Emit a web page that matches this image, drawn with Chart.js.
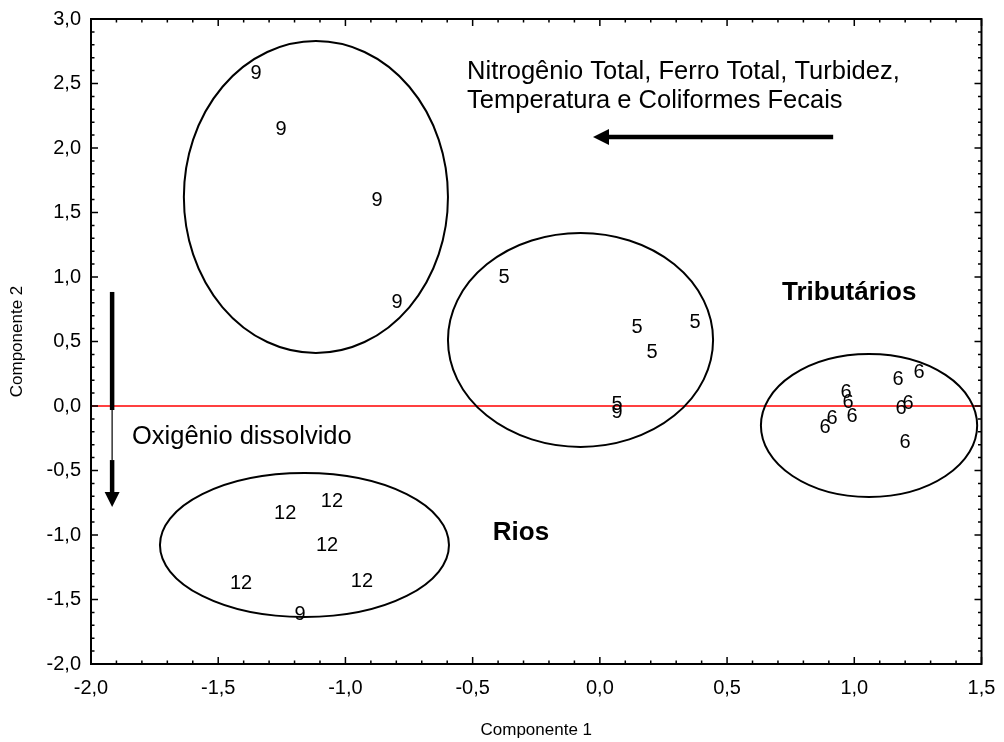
<!DOCTYPE html>
<html><head><meta charset="utf-8">
<script src="https://cdn.jsdelivr.net/npm/chart.js@4.4.1/dist/chart.umd.min.js"></script>
<style>html,body{margin:0;padding:0;background:#fff}#wrap{width:1004px;height:742px;position:relative}</style>
</head><body><div id="wrap"><canvas id="c"></canvas></div>
<script>
// ---- tick labels ----
const xTicks = [-2.0, -1.5, -1.0, -0.5, 0.0, 0.5, 1.0, 1.5];
const yTicks = [-2.0, -1.5, -1.0, -0.5, 0.0, 0.5, 1.0, 1.5, 2.0, 2.5, 3.0];
const xTitle = 'Componente 1';
const yTitle = 'Componente 2';

// ---- point groups (label text drawn at each score) ----
const g9X = [-1.351, -1.253, -0.876, -0.797];
const g9Y = [2.581, 2.140, 1.597, 0.806];
const g5X = [-0.377, 0.146, 0.374, 0.205, 0.068];
const g5Y = [1.000, 0.605, 0.651, 0.411, 0.008];
const g6X = [1.172, 1.255, 0.968, 0.976, 0.991, 0.913, 0.885, 1.184, 1.211, 1.200];
const g6Y = [0.202, 0.256, 0.101, 0.031, -0.085, -0.093, -0.163, -0.016, 0.016, -0.279];
const g12X = [-1.053, -1.237, -1.072, -1.410, -0.935];
const g12Y = [-0.744, -0.837, -1.085, -1.372, -1.357];
const extra9X = [0.068, -1.178];
const extra9Y = [-0.054, -1.620];

// ---- group ellipses: centre x, centre y, radius x, radius y (data units) ----
const ellCX = [-1.116, -0.076, 1.058, -1.161];
const ellCY = [1.620, 0.512, -0.151, -1.078];
const ellRX = [0.519, 0.521, 0.425, 0.568];
const ellRY = [1.209, 0.829, 0.554, 0.558];

// ---- annotations ----
const noteTexts = ['Nitrogênio Total, Ferro Total, Turbidez,', 'Temperatura e Coliformes Fecais', 'Oxigênio dissolvido'];
const noteX = [-0.522, -0.522, -1.839];
const noteY = [2.589, 2.364, -0.240];
const boldTexts = ['Tributários', 'Rios'];
const boldX = [0.980, -0.310];
const boldY = [0.876, -0.984];

const fmt = v => Number(v).toFixed(1).replace('.', ',');
const pts = (xs, ys) => xs.map((x, i) => ({x, y: ys[i]}));
const FONT = "'Liberation Sans', Arial, sans-serif";
Chart.defaults.font.family = FONT;
Chart.defaults.color = '#000';

const decor = {
  id: 'decor',
  beforeDatasetsDraw(chart) {
    const {ctx, chartArea: a, scales: {x, y}} = chart;
    ctx.save();
    ctx.strokeStyle = '#ff0000';
    ctx.lineWidth = 1.5;
    const y0 = y.getPixelForValue(0);
    ctx.beginPath(); ctx.moveTo(a.left, y0); ctx.lineTo(a.right, y0); ctx.stroke();
    ctx.strokeStyle = '#000';
    ctx.lineWidth = 2;
    for (let i = 0; i < ellCX.length; i++) {
      const cx = x.getPixelForValue(ellCX[i]), cy = y.getPixelForValue(ellCY[i]);
      const rx = Math.abs(x.getPixelForValue(ellCX[i] + ellRX[i]) - cx);
      const ry = Math.abs(y.getPixelForValue(ellCY[i] + ellRY[i]) - cy);
      ctx.beginPath(); ctx.ellipse(cx, cy, rx, ry, 0, 0, Math.PI * 2); ctx.stroke();
    }
    ctx.restore();
  },
  afterDatasetsDraw(chart) {
    const {ctx, scales: {x, y}} = chart;
    ctx.save();
    ctx.fillStyle = '#000';
    ctx.textAlign = 'center';
    ctx.textBaseline = 'middle';
    ctx.font = '20px ' + FONT;
    chart.data.datasets.forEach((ds, di) => {
      chart.getDatasetMeta(di).data.forEach(el => ctx.fillText(ds.mark, el.x, el.y));
    });
    ctx.textAlign = 'left';
    ctx.font = '25.5px ' + FONT;
    noteTexts.forEach((t, i) => ctx.fillText(t, x.getPixelForValue(noteX[i]), y.getPixelForValue(noteY[i])));
    ctx.textAlign = 'center';
    ctx.font = 'bold 26px ' + FONT;
    boldTexts.forEach((t, i) => ctx.fillText(t, x.getPixelForValue(boldX[i]), y.getPixelForValue(boldY[i])));
    // horizontal arrow
    const ay = y.getPixelForValue(2.085);
    const ax1 = x.getPixelForValue(0.917), ax0 = x.getPixelForValue(-0.027);
    ctx.strokeStyle = '#000';
    ctx.lineWidth = 4.5;
    ctx.beginPath(); ctx.moveTo(ax1, ay); ctx.lineTo(ax0 + 14, ay); ctx.stroke();
    ctx.beginPath(); ctx.moveTo(ax0, ay); ctx.lineTo(ax0 + 16, ay - 8); ctx.lineTo(ax0 + 16, ay + 8); ctx.closePath(); ctx.fill();
    // vertical arrow
    const vx = x.getPixelForValue(-1.917);
    const v1 = y.getPixelForValue(0.884), v2 = y.getPixelForValue(-0.031), v3 = y.getPixelForValue(-0.419), tip = y.getPixelForValue(-0.783);
    ctx.lineWidth = 4.5;
    ctx.beginPath(); ctx.moveTo(vx, v1); ctx.lineTo(vx, v2); ctx.stroke();
    ctx.lineWidth = 1.2;
    ctx.beginPath(); ctx.moveTo(vx, v2); ctx.lineTo(vx, v3); ctx.stroke();
    ctx.lineWidth = 4.5;
    ctx.beginPath(); ctx.moveTo(vx, v3); ctx.lineTo(vx, tip - 12); ctx.stroke();
    ctx.beginPath(); ctx.moveTo(vx, tip); ctx.lineTo(vx - 7.5, tip - 15); ctx.lineTo(vx + 7.5, tip - 15); ctx.closePath(); ctx.fill();
    ctx.restore();
  },
  afterDraw(chart) {
    const {ctx, chartArea: a, scales: {x, y}} = chart;
    ctx.save();
    ctx.strokeStyle = '#000';
    ctx.lineWidth = 2;
    ctx.strokeRect(a.left, a.top, a.right - a.left, a.bottom - a.top);
    ctx.lineWidth = 1.5;
    ctx.beginPath();
    for (let i = -20; i <= 15; i++) {
      const px = x.getPixelForValue(i / 10), L = (i % 5 === 0) ? 7 : 3.5;
      ctx.moveTo(px, a.bottom); ctx.lineTo(px, a.bottom - L);
      ctx.moveTo(px, a.top); ctx.lineTo(px, a.top + L);
    }
    for (let i = -20; i <= 30; i++) {
      const py = y.getPixelForValue(i / 10), L = (i % 5 === 0) ? 7 : 3.5;
      ctx.moveTo(a.left, py); ctx.lineTo(a.left + L, py);
      ctx.moveTo(a.right, py); ctx.lineTo(a.right - L, py);
    }
    ctx.stroke();
    ctx.restore();
  }
};

const mk = (xs, ys, mark) => ({data: pts(xs, ys), mark, pointRadius: 0, pointHoverRadius: 0, showLine: false});

new Chart(document.getElementById('c'), {
  type: 'scatter',
  data: {datasets: [
    mk(g9X, g9Y, '9'), mk(g5X, g5Y, '5'), mk(g6X, g6Y, '6'), mk(g12X, g12Y, '12'), mk(extra9X, extra9Y, '9')
  ]},
  options: {
    responsive: true, maintainAspectRatio: false, animation: false,
    events: [],
    layout: {padding: {left: 0, top: 19, right: 22.5, bottom: 0}},
    plugins: {legend: {display: false}, tooltip: {enabled: false}},
    scales: {
      x: {
        type: 'linear', min: -2, max: 1.5,
        afterBuildTicks: s => { s.ticks = xTicks.map(v => ({value: v})); },
        ticks: {padding: 12, font: {size: 20}, color: '#000', callback: v => fmt(v), maxRotation: 0, autoSkip: false},
        grid: {display: false, drawTicks: false}, border: {display: false},
        title: {display: true, text: xTitle, font: {size: 17}, color: '#000', padding: {top: 0, bottom: 1}},
        afterFit: s => { s.height = 78; s.paddingLeft = 0; s.paddingRight = 0; }
      },
      y: {
        type: 'linear', min: -2, max: 3,
        afterBuildTicks: s => { s.ticks = yTicks.map(v => ({value: v})); },
        ticks: {padding: 10, font: {size: 20}, color: '#000', callback: v => fmt(v), autoSkip: false},
        grid: {display: false, drawTicks: false}, border: {display: false},
        title: {display: true, text: yTitle, font: {size: 17}, color: '#000', padding: {top: 7, bottom: 0}},
        afterFit: s => { s.width = 91; s.paddingTop = 0; s.paddingBottom = 0; }
      }
    }
  },
  plugins: [decor]
});
</script></body></html>
